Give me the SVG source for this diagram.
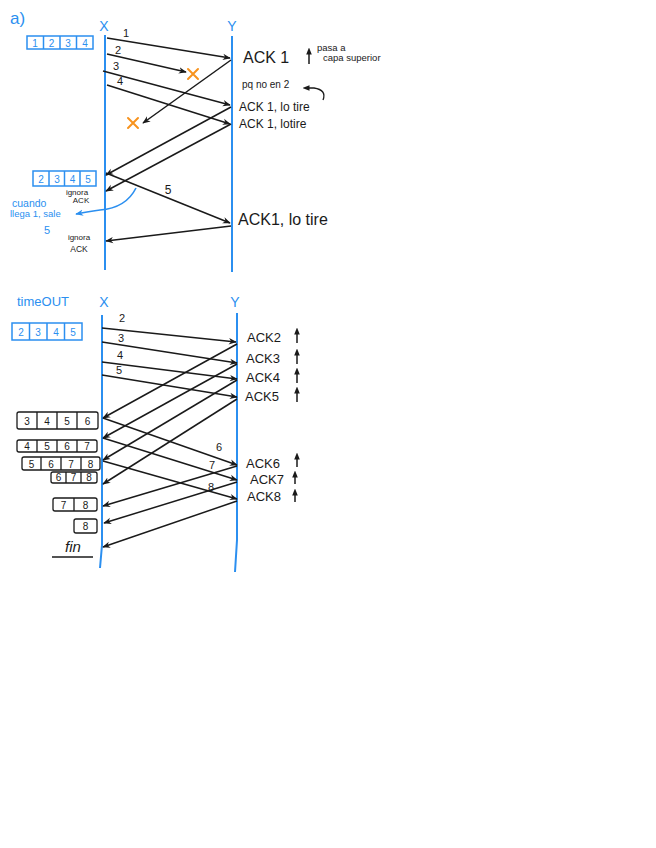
<svg xmlns="http://www.w3.org/2000/svg" width="656" height="848" viewBox="0 0 656 848">
<defs>
<marker id="ah" viewBox="0 0 10 10" refX="9" refY="5" markerWidth="8" markerHeight="8" orient="auto" markerUnits="userSpaceOnUse">
<path d="M0,1 L10,5 L0,9 L3,5 Z" fill="#1a1a1a"/>
</marker>
<marker id="ahb" viewBox="0 0 10 10" refX="9" refY="5" markerWidth="8" markerHeight="8" orient="auto" markerUnits="userSpaceOnUse">
<path d="M0,1 L10,5 L0,9 L3,5 Z" fill="#2b8ff0"/>
</marker>
<marker id="ahs" viewBox="0 0 10 10" refX="5" refY="5" markerWidth="7" markerHeight="7" orient="auto" markerUnits="userSpaceOnUse">
<path d="M0,1 L10,5 L0,9 Z" fill="#1a1a1a"/>
</marker>
<style>
.life{stroke:#2b8ff0;stroke-width:2;fill:none}
.msg{stroke:#1a1a1a;stroke-width:1.5;fill:none;marker-end:url(#ah)}
.t{font-family:"Liberation Sans",Arial,sans-serif;fill:#1a1a1a}
.tb{font-family:"Liberation Sans",Arial,sans-serif;fill:#2b8ff0}
.xo{stroke:#f7931e;stroke-width:2;fill:none;stroke-linecap:round}
.bbox{stroke:#2b8ff0;stroke-width:1.5;fill:#fff}
.kbox{stroke:#1a1a1a;stroke-width:1.3;fill:#fff}
.up{stroke:#1a1a1a;stroke-width:1.5;fill:none;marker-end:url(#ahs)}
.cell{font-family:"Liberation Sans",Arial,sans-serif;font-size:10px;text-anchor:middle}
</style>
</defs>

<!-- Section a -->
<text class="tb" x="10" y="24" font-size="17">a)</text>

<g id="X1"><text class="tb" x="104" y="31" font-size="14" text-anchor="middle">X</text><line class="life" x1="105" y1="35" x2="105" y2="270"/></g>
<g id="Y1"><text class="tb" x="232" y="31" font-size="14" text-anchor="middle">Y</text><line class="life" x1="232" y1="36" x2="232" y2="272"/></g>

<g id="win1">
<rect class="bbox" x="27" y="36" width="66" height="13"/>
<line class="bbox" x1="43.5" y1="36" x2="43.5" y2="49"/><line class="bbox" x1="60" y1="36" x2="60" y2="49"/><line class="bbox" x1="76.5" y1="36" x2="76.5" y2="49"/>
<text class="cell tb" x="35" y="46.5">1</text><text class="cell tb" x="51.5" y="46.5">2</text><text class="cell tb" x="68" y="46.5">3</text><text class="cell tb" x="85" y="46.5">4</text>
</g>

<g id="win2">
<rect class="bbox" x="33" y="171" width="63" height="15"/>
<line class="bbox" x1="49" y1="171" x2="49" y2="186"/><line class="bbox" x1="64.5" y1="171" x2="64.5" y2="186"/><line class="bbox" x1="80" y1="171" x2="80" y2="186"/>
<text class="cell tb" x="41" y="182.5" font-size="11">2</text><text class="cell tb" x="57" y="182.5" font-size="11">3</text><text class="cell tb" x="72.5" y="182.5" font-size="11">4</text><text class="cell tb" x="88" y="182.5" font-size="11">5</text>
</g>

<g id="lost1"><path class="xo" d="M188,69 L198,79 M198,69 L188,79"/></g>
<g id="lost2"><path class="xo" d="M128,118 L138,128 M138,118 L128,128"/></g>

<g id="connectors-a">
<line class="msg" x1="107" y1="38" x2="230" y2="58"/>
<line class="msg" x1="107" y1="54" x2="186" y2="72"/>
<line class="msg" x1="103" y1="71" x2="230" y2="105"/>
<line class="msg" x1="107" y1="85" x2="230" y2="124"/>
<line class="msg" x1="231" y1="60" x2="143" y2="123"/>
<line class="msg" x1="231" y1="107" x2="106" y2="175"/>
<line class="msg" x1="231" y1="124" x2="106" y2="191"/>
<line class="msg" x1="106" y1="173" x2="230" y2="223"/>
<line class="msg" x1="231" y1="226" x2="106" y2="241"/>
<path d="M136,188 Q126,208 100,210 Q86,212 76,214" stroke="#2b8ff0" stroke-width="1.6" fill="none" marker-end="url(#ahb)"/>
<path d="M323,100 Q327,90 314,88 L306,88" stroke="#1a1a1a" stroke-width="1.3" fill="none" marker-end="url(#ahs)"/>
<line class="up" x1="309" y1="64" x2="309" y2="51"/>
</g>

<g id="labels-a">
<text class="t" x="126" y="37" font-size="11" text-anchor="middle">1</text>
<text class="t" x="118" y="54" font-size="11" text-anchor="middle">2</text>
<text class="t" x="116" y="70" font-size="11" text-anchor="middle">3</text>
<text class="t" x="120" y="85" font-size="11" text-anchor="middle">4</text>
<text class="t" x="168" y="194" font-size="12" text-anchor="middle">5</text>
<text class="t" x="243" y="63" font-size="16">ACK 1</text>
<text class="t" x="317" y="51" font-size="9.5">pasa a</text>
<text class="t" x="323" y="61" font-size="9.5">capa superior</text>
<text class="t" x="242" y="88" font-size="10">pq no en 2</text>
<text class="t" x="239" y="111" font-size="12">ACK 1, lo tire</text>
<text class="t" x="239" y="128" font-size="12">ACK 1, lotire</text>
<text class="t" x="238" y="225" font-size="16">ACK1, lo tire</text>
<text class="t" x="77" y="195" font-size="8" text-anchor="middle">ignora</text>
<text class="t" x="81" y="203" font-size="8" text-anchor="middle">ACK</text>
<text class="t" x="79" y="240" font-size="8" text-anchor="middle">ignora</text>
<text class="t" x="79" y="252" font-size="8.5" text-anchor="middle">ACK</text>
<text class="tb" x="12" y="207" font-size="10.5">cuando</text>
<text class="tb" x="10" y="217" font-size="9.5">llega 1, sale</text>
<text class="tb" x="47" y="234" font-size="11" text-anchor="middle">5</text>
</g>

<!-- Section timeout -->
<text class="tb" x="17" y="306" font-size="13">timeOUT</text>
<g id="X2"><text class="tb" x="104" y="307" font-size="14" text-anchor="middle">X</text><path class="life" d="M102,315 L102,545 L100,568"/></g>
<g id="Y2"><text class="tb" x="235" y="307" font-size="14" text-anchor="middle">Y</text><path class="life" d="M237,313 L237,540 L235,572"/></g>

<g id="win3">
<rect class="bbox" x="12" y="323" width="70" height="17"/>
<line class="bbox" x1="29.5" y1="323" x2="29.5" y2="340"/><line class="bbox" x1="47" y1="323" x2="47" y2="340"/><line class="bbox" x1="64.5" y1="323" x2="64.5" y2="340"/>
<text class="cell tb" x="21" y="335.5" font-size="11">2</text><text class="cell tb" x="38" y="335.5" font-size="11">3</text><text class="cell tb" x="56" y="335.5" font-size="11">4</text><text class="cell tb" x="73" y="335.5" font-size="11">5</text>
</g>

<g id="win4">
<rect class="kbox" x="17" y="412" width="81" height="17" rx="2"/>
<line class="kbox" x1="37" y1="412" x2="37" y2="429"/><line class="kbox" x1="57" y1="412" x2="57" y2="429"/><line class="kbox" x1="77" y1="412" x2="77" y2="429"/>
<text class="cell t" x="27" y="425">3</text><text class="cell t" x="47" y="425">4</text><text class="cell t" x="67" y="425">5</text><text class="cell t" x="87.5" y="425">6</text>
</g>
<g id="win5">
<rect class="kbox" x="17" y="440" width="80" height="12" rx="2"/>
<line class="kbox" x1="37" y1="440" x2="37" y2="452"/><line class="kbox" x1="57" y1="440" x2="57" y2="452"/><line class="kbox" x1="77" y1="440" x2="77" y2="452"/>
<text class="cell t" x="27" y="450" font-size="9">4</text><text class="cell t" x="47" y="450" font-size="9">5</text><text class="cell t" x="67" y="450" font-size="9">6</text><text class="cell t" x="87" y="450" font-size="9">7</text>
</g>
<g id="win6">
<rect class="kbox" x="22" y="457" width="78" height="13" rx="2"/>
<line class="kbox" x1="41" y1="457" x2="41" y2="470"/><line class="kbox" x1="61" y1="457" x2="61" y2="470"/><line class="kbox" x1="81" y1="457" x2="81" y2="470"/>
<text class="cell t" x="31.5" y="467.5">5</text><text class="cell t" x="51" y="467.5">6</text><text class="cell t" x="71" y="467.5">7</text><text class="cell t" x="90.5" y="467.5">8</text>
</g>
<g id="win7">
<rect class="kbox" x="51" y="472" width="46" height="11" rx="2"/>
<line class="kbox" x1="66" y1="472" x2="66" y2="483"/><line class="kbox" x1="81" y1="472" x2="81" y2="483"/>
<text class="cell t" x="58.5" y="481" font-size="9">6</text><text class="cell t" x="73.5" y="481" font-size="9">7</text><text class="cell t" x="89" y="481" font-size="9">8</text>
</g>
<g id="win8">
<rect class="kbox" x="53" y="498" width="44" height="13" rx="2"/>
<line class="kbox" x1="74" y1="498" x2="74" y2="511"/>
<text class="cell t" x="63.5" y="508.5">7</text><text class="cell t" x="85.5" y="508.5">8</text>
</g>
<g id="win9">
<rect class="kbox" x="74" y="519" width="23" height="14" rx="2"/>
<text class="cell t" x="85.5" y="530">8</text>
</g>
<g id="fin">
<text class="t" x="73" y="552" font-size="15" font-style="italic" text-anchor="middle">fin</text>
<line x1="52" y1="557" x2="93" y2="557" stroke="#1a1a1a" stroke-width="1.3"/>
</g>

<g id="connectors-b">
<line class="msg" x1="102" y1="328" x2="236" y2="342"/>
<line class="msg" x1="102" y1="342" x2="237" y2="363"/>
<line class="msg" x1="102" y1="362" x2="237" y2="379"/>
<line class="msg" x1="102" y1="375" x2="237" y2="397"/>
<line class="msg" x1="237" y1="344" x2="103" y2="418"/>
<line class="msg" x1="237" y1="364" x2="103" y2="438"/>
<line class="msg" x1="237" y1="380" x2="103" y2="460"/>
<line class="msg" x1="237" y1="399" x2="103" y2="484"/>
<line class="msg" x1="103" y1="418" x2="237" y2="465"/>
<line class="msg" x1="103" y1="438" x2="237" y2="480"/>
<line class="msg" x1="103" y1="461" x2="237" y2="499"/>
<line class="msg" x1="237" y1="466" x2="103" y2="506"/>
<line class="msg" x1="237" y1="482" x2="104" y2="523"/>
<line class="msg" x1="237" y1="501" x2="103" y2="547"/>
<line class="up" x1="297" y1="343" x2="297" y2="331"/>
<line class="up" x1="297" y1="364" x2="297" y2="352"/>
<line class="up" x1="297" y1="383" x2="297" y2="371"/>
<line class="up" x1="297" y1="402" x2="297" y2="390"/>
<line class="up" x1="297" y1="467" x2="297" y2="456"/>
<line class="up" x1="295" y1="484" x2="295" y2="474"/>
<line class="up" x1="295" y1="502" x2="295" y2="492"/>
</g>

<g id="labels-b">
<text class="t" x="122" y="322" font-size="11" text-anchor="middle">2</text>
<text class="t" x="121" y="342" font-size="11" text-anchor="middle">3</text>
<text class="t" x="120" y="359" font-size="11" text-anchor="middle">4</text>
<text class="t" x="119" y="374" font-size="11" text-anchor="middle">5</text>
<text class="t" x="219" y="451" font-size="11" text-anchor="middle">6</text>
<text class="t" x="212" y="469" font-size="11" text-anchor="middle">7</text>
<text class="t" x="211" y="491" font-size="11" text-anchor="middle">8</text>
<text class="t" x="247" y="342" font-size="13">ACK2</text>
<text class="t" x="246" y="363" font-size="13">ACK3</text>
<text class="t" x="246" y="382" font-size="13">ACK4</text>
<text class="t" x="245" y="401" font-size="13">ACK5</text>
<text class="t" x="246" y="468" font-size="13">ACK6</text>
<text class="t" x="250" y="484" font-size="13">ACK7</text>
<text class="t" x="247" y="501" font-size="13">ACK8</text>
</g>
</svg>
